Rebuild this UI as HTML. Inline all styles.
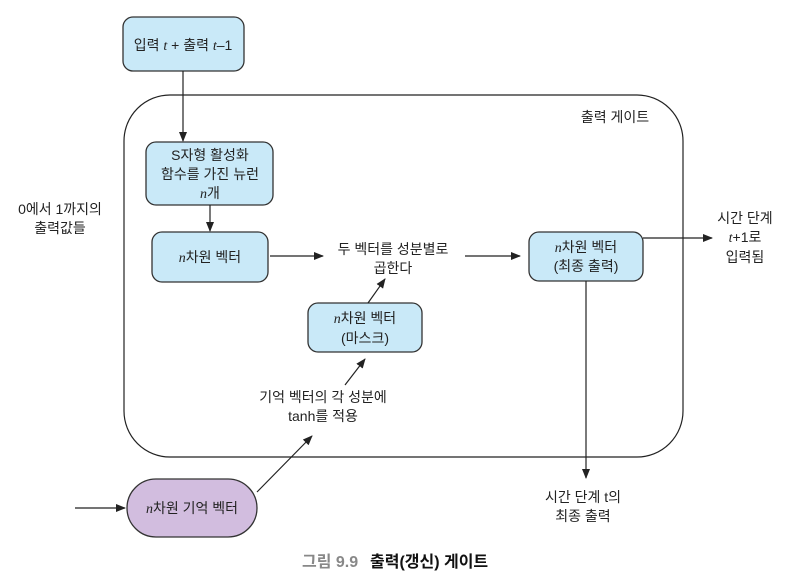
<!DOCTYPE html>
<html><head><meta charset="utf-8"><style>
body{margin:0;background:#fff}
svg text{font-family:"Liberation Sans","Noto Sans CJK KR",sans-serif;font-size:14px;fill:#222}
.i{font-family:"Liberation Serif",serif;font-style:italic}
</style></head><body>
<svg width="796" height="579" viewBox="0 0 796 579" xmlns="http://www.w3.org/2000/svg">
<defs><marker id="a" markerWidth="10" markerHeight="8" refX="9" refY="4" orient="auto" markerUnits="userSpaceOnUse"><path d="M0,0 L10,4 L0,8 Z" fill="#222"/></marker></defs>
<g fill="#c9e9f8" stroke="#333" stroke-width="1.3">
<rect x="123" y="17" width="121" height="54" rx="10"/>
<rect x="146" y="142" width="127" height="63" rx="10"/>
<rect x="152" y="232" width="116" height="50" rx="10"/>
<rect x="529" y="232" width="114" height="49" rx="10"/>
<rect x="308" y="303" width="114" height="49" rx="10"/>
</g>
<rect x="127" y="479" width="130" height="58" rx="29" fill="#d2bddf" stroke="#333" stroke-width="1.3"/>
<rect x="124" y="95" width="559" height="362" rx="46" fill="none" stroke="#222" stroke-width="1.2"/>
<g stroke="#222" stroke-width="1.2" fill="none" marker-end="url(#a)">
<line x1="183" y1="71" x2="183" y2="141"/>
<line x1="210" y1="205" x2="210" y2="231"/>
<line x1="270" y1="256" x2="323" y2="256"/>
<line x1="465" y1="256" x2="520" y2="256"/>
<line x1="368" y1="303" x2="385" y2="279"/>
<line x1="345" y1="385" x2="365" y2="359"/>
<line x1="75" y1="508" x2="125" y2="508"/>
<line x1="257" y1="492" x2="312" y2="436"/>
<line x1="586" y1="281" x2="586" y2="478"/>
<line x1="643" y1="238" x2="712" y2="238"/>
</g>
<g text-anchor="middle">
<text x="183" y="50">입력 <tspan class="i">t</tspan> + 출력 <tspan class="i">t</tspan>–1</text>
<text x="615" y="122">출력 게이트</text>
<text x="210" y="160">S자형 활성화</text>
<text x="210" y="179">함수를 가진 뉴런</text>
<text x="210" y="198"><tspan class="i">n</tspan>개</text>
<text x="210" y="262"><tspan class="i">n</tspan>차원 벡터</text>
<text x="393" y="254">두 벡터를 성분별로</text>
<text x="393" y="273">곱한다</text>
<text x="586" y="252"><tspan class="i">n</tspan>차원 벡터</text>
<text x="586" y="271">(최종 출력)</text>
<text x="365" y="323"><tspan class="i">n</tspan>차원 벡터</text>
<text x="365" y="343">(마스크)</text>
<text x="323" y="402">기억 벡터의 각 성분에</text>
<text x="323" y="421">tanh를 적용</text>
<text x="192" y="513"><tspan class="i">n</tspan>차원 기억 벡터</text>
<text x="583" y="502">시간 단계 t의</text>
<text x="583" y="521">최종 출력</text>
<text x="745" y="223">시간 단계</text>
<text x="745" y="242"><tspan class="i">t</tspan>+1로</text>
<text x="745" y="262">입력됨</text>
<text x="60" y="214">0에서 1까지의</text>
<text x="60" y="233">출력값들</text>
</g>
<text x="302" y="567" style="font-size:16px;fill:#888;font-weight:bold">그림 9.9</text>
<text x="370" y="567" style="font-size:16px;font-weight:bold;fill:#111">출력(갱신) 게이트</text>
</svg>
</body></html>
